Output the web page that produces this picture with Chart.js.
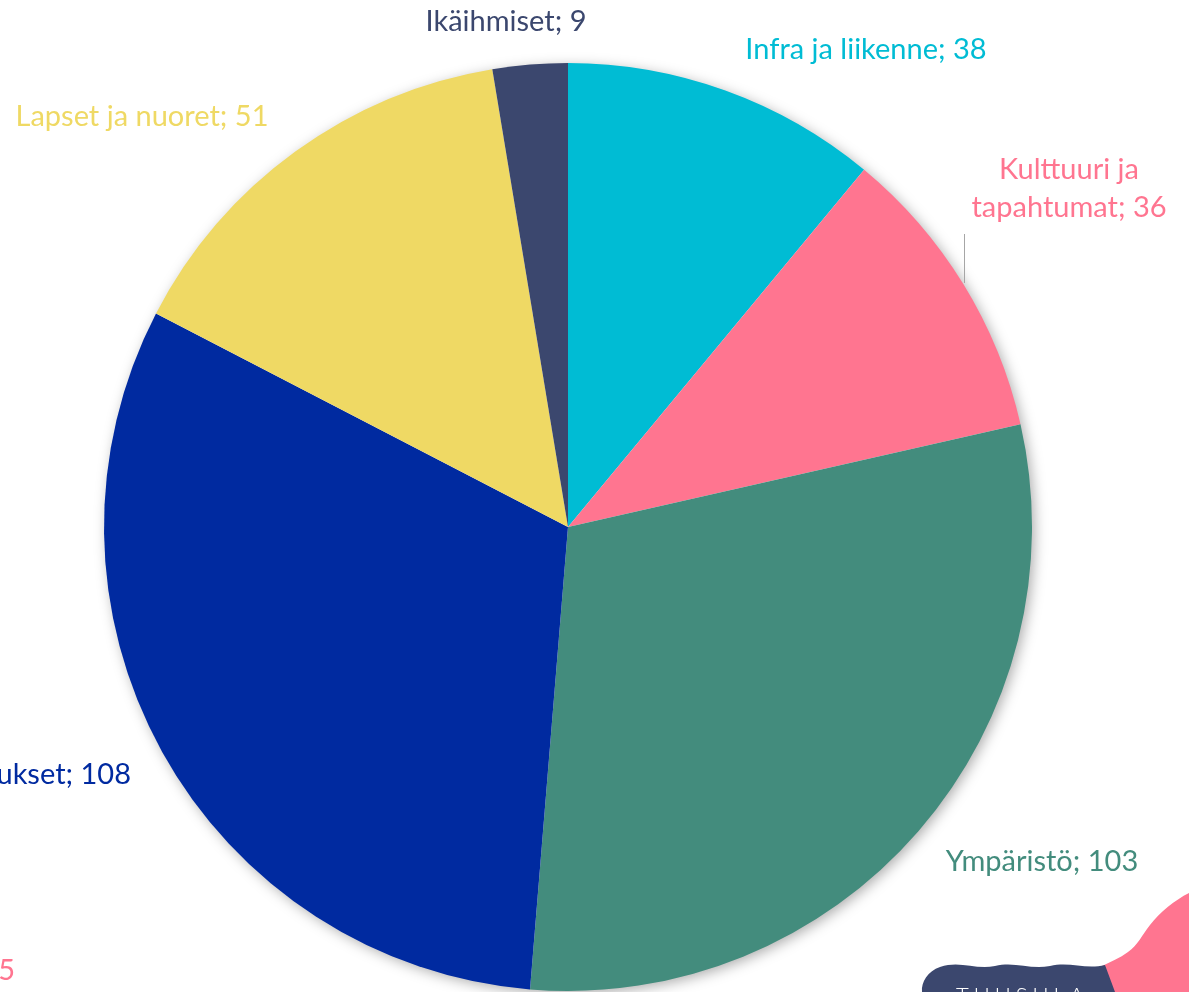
<!DOCTYPE html>
<html>
<head>
<meta charset="utf-8">
<script src="https://cdn.jsdelivr.net/npm/chart.js@4.4.0/dist/chart.umd.min.js"></script>
<style>
  html, body { margin: 0; padding: 0; background: #fff; overflow: hidden; }
  #wrap { width: 1189px; height: 992px; position: relative; }
</style>
</head>
<body>
<div id="wrap"><canvas id="myChart" width="1189" height="992"></canvas></div>
<script>
// slices, clockwise from 12 o'clock
const categories = ['Infra ja liikenne', 'Kulttuuri ja tapahtumat', 'Ympäristö', 'Harrastukset', 'Lapset ja nuoret', 'Ikäihmiset'];
const values = [38, 36, 103, 108, 51, 9];
const colors = ['#00bcd4', '#ff7590', '#438c7d', '#002aa0', '#efd964', '#3b476e'];

// where each outside label sits (text lines, centre x/y, alignment)
const labelSpots = [
  { lines: ['Infra ja liikenne; 38'], x: 866, y: 50, align: 'center' },
  { lines: ['Kulttuuri ja', 'tapahtumat; 36'], x: 1069, y: 170, align: 'center' },
  { lines: ['Ympäristö; 103'], x: 1042, y: 862, align: 'center' },
  { lines: ['Harrastukset; 108'], x: 131, y: 775, align: 'right' },
  { lines: ['Lapset ja nuoret; 51'], x: 142, y: 117, align: 'center' },
  { lines: ['Ikäihmiset; 9'], x: 506, y: 22, align: 'center' }
];

const FONT = '29px Lato';

const pieShadow = {
  id: 'pieShadow',
  beforeDatasetsDraw(chart) {
    const arc = chart.getDatasetMeta(0).data[0];
    if (!arc) return;
    const ctx = chart.ctx;
    ctx.save();
    ctx.shadowColor = 'rgba(0,0,0,0.35)';
    ctx.shadowBlur = 14;
    ctx.shadowOffsetX = 3;
    ctx.shadowOffsetY = 3;
    ctx.fillStyle = '#fff';
    ctx.beginPath();
    ctx.arc(arc.x, arc.y, arc.outerRadius - 1, 0, Math.PI * 2);
    ctx.fill();
    ctx.restore();
  }
};

const outsideLabels = {
  id: 'outsideLabels',
  afterDatasetsDraw(chart) {
    const ctx = chart.ctx;
    ctx.save();
    ctx.font = FONT;
    ctx.textBaseline = 'middle';
    labelSpots.forEach((s, i) => {
      ctx.fillStyle = colors[i];
      ctx.textAlign = s.align;
      s.lines.forEach((ln, k) => ctx.fillText(ln, s.x, s.y + k * 38));
    });
    // leader line for the culture label
    ctx.strokeStyle = '#a6a6a6';
    ctx.lineWidth = 1;
    ctx.beginPath();
    ctx.moveTo(964.5, 234);
    ctx.lineTo(964.5, 283);
    ctx.stroke();
    // stray label from neighbouring chart, cut at the edge
    ctx.fillStyle = '#ff7590';
    ctx.textAlign = 'right';
    ctx.fillText('5', 15, 971);

    // Tuusula logo corner
    ctx.fillStyle = '#ff7590';
    ctx.beginPath();
    ctx.moveTo(1189, 893);
    ctx.bezierCurveTo(1175, 900, 1160, 912, 1150, 925);
    ctx.bezierCurveTo(1142, 935, 1138, 945, 1128, 952);
    ctx.bezierCurveTo(1120, 958, 1110, 962, 1102, 966);
    ctx.lineTo(1110, 992);
    ctx.lineTo(1189, 992);
    ctx.closePath();
    ctx.fill();
    ctx.fillStyle = '#3b476e';
    ctx.beginPath();
    ctx.moveTo(940, 967);
    ctx.bezierCurveTo(960, 960, 975, 970, 995, 966);
    ctx.bezierCurveTo(1015, 961, 1030, 970, 1050, 966);
    ctx.bezierCurveTo(1070, 961, 1085, 970, 1105, 965);
    ctx.lineTo(1115, 992);
    ctx.lineTo(922, 992);
    ctx.bezierCurveTo(921, 982, 928, 971, 940, 967);
    ctx.closePath();
    ctx.fill();
    ctx.fillStyle = '#ffffff';
    ctx.font = '300 22px Lato';
    ctx.textAlign = 'left';
    ctx.textBaseline = 'alphabetic';
    const logo = 'TUUSULA';
    let lx = 956;
    for (const ch of logo) {
      ctx.fillText(ch, lx, 1003);
      lx += ctx.measureText(ch).width + 5;
    }
    ctx.restore();
  }
};

const data = {
  labels: categories,
  datasets: [{
    data: values,
    backgroundColor: colors,
    borderWidth: 0
  }]
};

const config = {
  type: 'pie',
  data: data,
  options: {
    responsive: false,
    animation: false,
    layout: { padding: { left: 104, right: 157, top: 63, bottom: 1 } },
    plugins: {
      legend: { display: false },
      tooltip: { enabled: false }
    }
  },
  plugins: [pieShadow, outsideLabels]
};

var myChart = new Chart(document.getElementById('myChart'), config);
</script>
</body>
</html>
